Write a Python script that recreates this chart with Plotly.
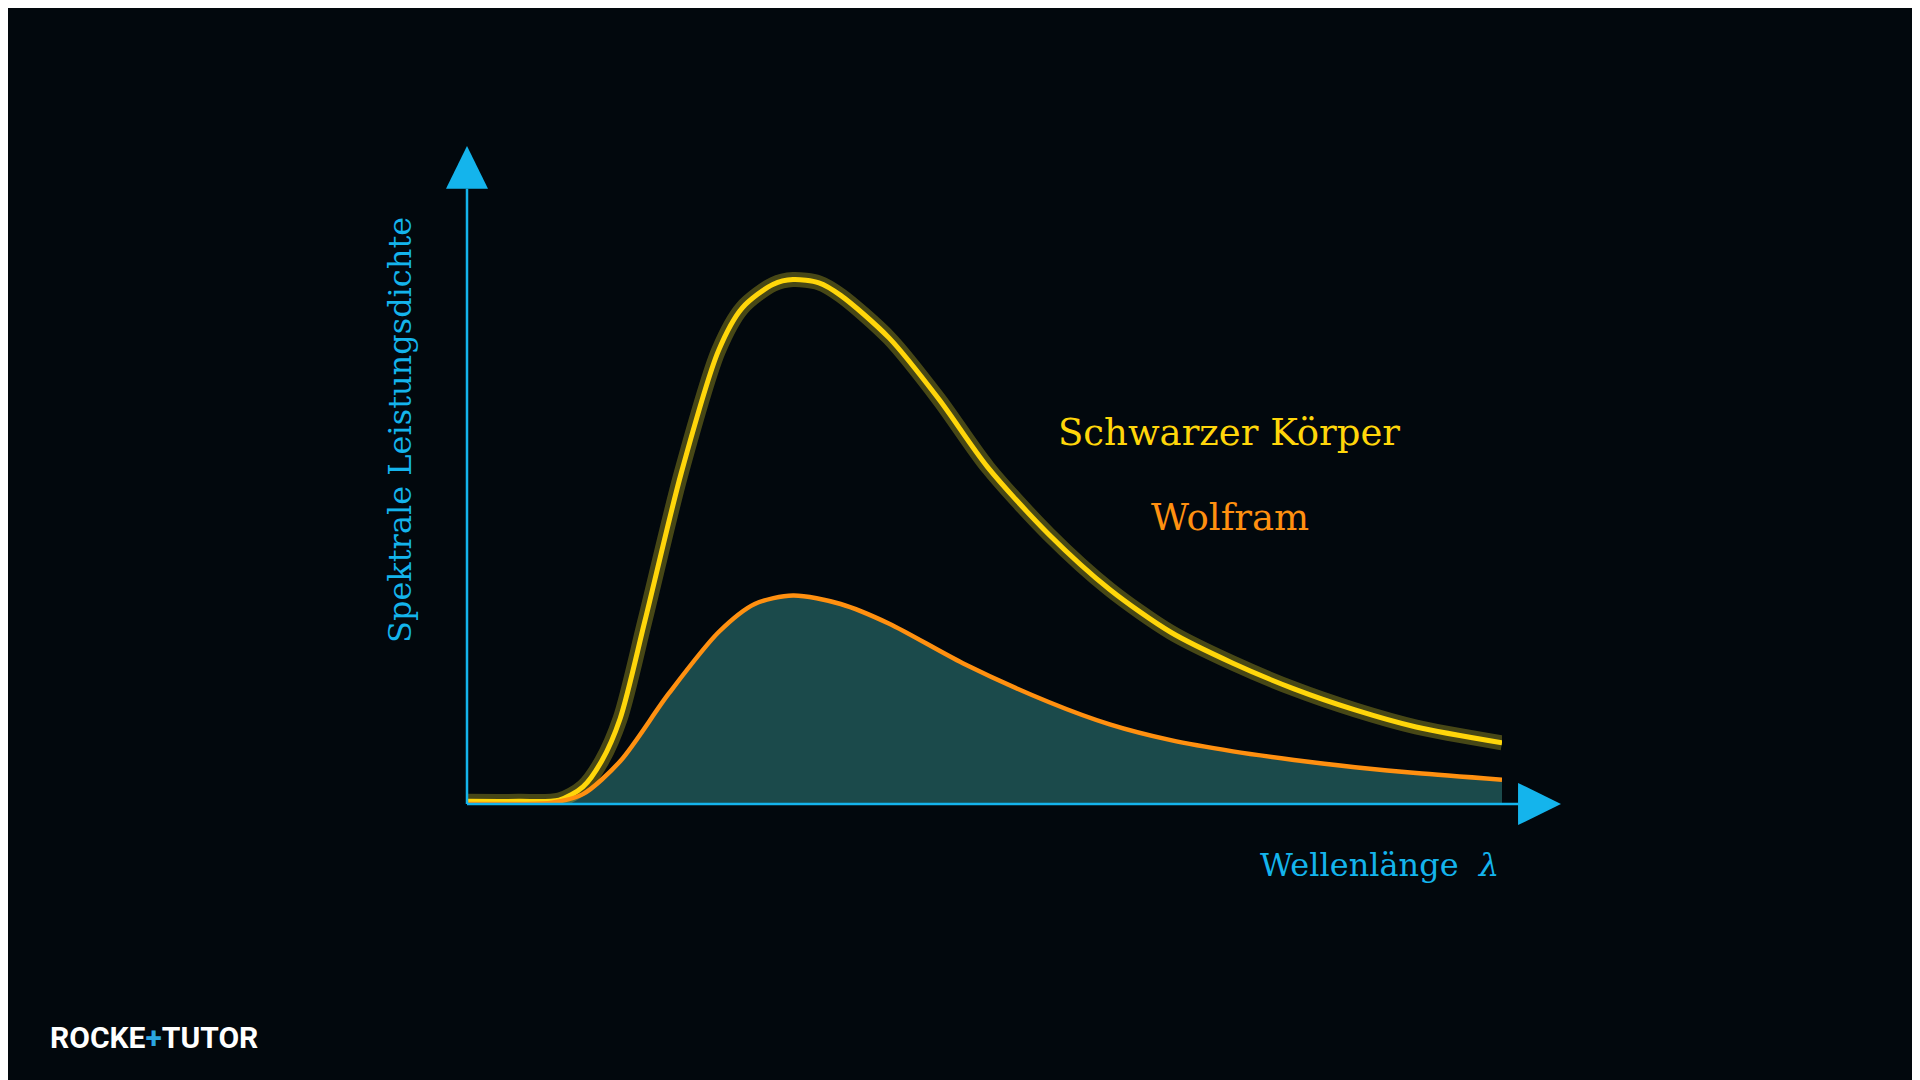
import plotly.graph_objects as go

# data (wavelength and power density in arbitrary units 0..100)
bb_x = [0, 5.0, 8.9, 11.2, 13.0, 14.8, 17.2, 20.7, 24.3, 26.6, 29.6, 31.5, 34.0, 36.1,
        40.8, 45.6, 50.3, 56.2, 62.1, 68.0, 74.0, 79.9, 85.8, 91.7, 100]
bb_y = [0.4, 0.4, 0.6, 2.6, 6.5, 13.0, 27.9, 50.3, 68.9, 75.4, 79.0, 79.7, 79.2, 77.3,
        70.8, 61.5, 51.2, 41.0, 32.6, 26.1, 21.4, 17.5, 14.3, 11.7, 9.3]
w_x = [0, 5.0, 8.2, 11.2, 14.8, 19.5, 24.3, 27.8, 31.5, 36.1, 40.8, 47.9, 56.2, 62.1,
       68.0, 74.0, 79.9, 85.8, 91.7, 100]
w_y = [0, 0, 0.2, 1.5, 6.5, 16.8, 26.1, 30.4, 31.7, 30.4, 27.4, 21.4, 15.5, 12.1,
       9.7, 8.0, 6.7, 5.6, 4.7, 3.7]

BG = "#02080d"
BLUE = "#14b4ec"
YELLOW = "#ffd60a"
ORANGE = "#ff9010"
SERIF = "DejaVu Serif"

fig = go.Figure()

# teal area under the tungsten curve
fig.add_trace(go.Scatter(x=w_x, y=w_y, mode="lines",
                         line=dict(width=0, shape="spline", smoothing=0.8),
                         fill="tozeroy", fillcolor="#1b4a4b", hoverinfo="skip",
                         showlegend=False))
# glow of black body curve
fig.add_trace(go.Scatter(x=bb_x, y=bb_y, mode="lines",
                         line=dict(color="rgba(200,190,40,0.35)", width=15,
                                   shape="spline", smoothing=0.8),
                         showlegend=False, cliponaxis=False))
fig.add_trace(go.Scatter(x=bb_x, y=bb_y, mode="lines", name="Schwarzer Körper",
                         line=dict(color=YELLOW, width=5, shape="spline", smoothing=0.8),
                         showlegend=False, cliponaxis=False))
fig.add_trace(go.Scatter(x=w_x, y=w_y, mode="lines", name="Wolfram",
                         line=dict(color=ORANGE, width=4.5, shape="spline", smoothing=0.8),
                         showlegend=False, cliponaxis=False))

# axes with arrows
fig.add_shape(type="line", xref="paper", yref="paper", x0=0, x1=1.016, y0=0, y1=0,
              line=dict(color=BLUE, width=2.5))
fig.add_shape(type="line", xref="paper", yref="paper", x0=0, x1=0, y0=0, y1=0.935,
              line=dict(color=BLUE, width=2.5))
fig.add_shape(type="path", xref="paper", yref="paper",
              path="M -0.0203,0.935 L 0.0203,0.935 L 0,1.0 Z",
              fillcolor=BLUE, line=dict(width=0))
fig.add_shape(type="path", xref="paper", yref="paper",
              path="M 1.0155,-0.032 L 1.0155,0.032 L 1.057,0 Z",
              fillcolor=BLUE, line=dict(width=0))

fig.add_annotation(text="Schwarzer Körper", xref="paper", yref="paper",
                   x=(1221 - 459) / 1035, y=(796 - 424) / 658, showarrow=False,
                   xanchor="center", yanchor="middle",
                   font=dict(family=SERIF, size=37, color=YELLOW))
fig.add_annotation(text="Wolfram", xref="paper", yref="paper",
                   x=(1222 - 459) / 1035, y=(796 - 509) / 658, showarrow=False,
                   xanchor="center", yanchor="middle",
                   font=dict(family=SERIF, size=37, color=ORANGE))
fig.add_annotation(text="Wellenlänge  <i>λ</i>", xref="paper", yref="paper",
                   x=(1493 - 459) / 1035, y=(796 - 857) / 658, xanchor="right",
                   yanchor="middle", showarrow=False,
                   font=dict(family=SERIF, size=32, color=BLUE))
fig.add_annotation(text="Spektrale Leistungsdichte", xref="paper", yref="paper",
                   x=(392 - 459) / 1035, y=(796 - 422) / 658, textangle=-90,
                   xanchor="center", yanchor="middle",
                   showarrow=False, font=dict(family=SERIF, size=32, color=BLUE))
fig.add_annotation(text="ROCKE<span style='color:#2aa6e2'>+</span>TUTOR",
                   xref="paper", yref="paper", x=(40 - 459) / 1035, y=(796 - 1029) / 658,
                   xanchor="left", yanchor="middle", showarrow=False,
                   font=dict(family="Roboto", size=30, color="white", weight="bold"))

fig.update_layout(
    width=1920, height=1080,
    paper_bgcolor=BG, plot_bgcolor=BG,
    margin=dict(l=459, r=426, t=138, b=284),
    xaxis=dict(range=[0, 100], visible=False),
    yaxis=dict(range=[0, 100], visible=False),
)

fig.write_html("out.html")
